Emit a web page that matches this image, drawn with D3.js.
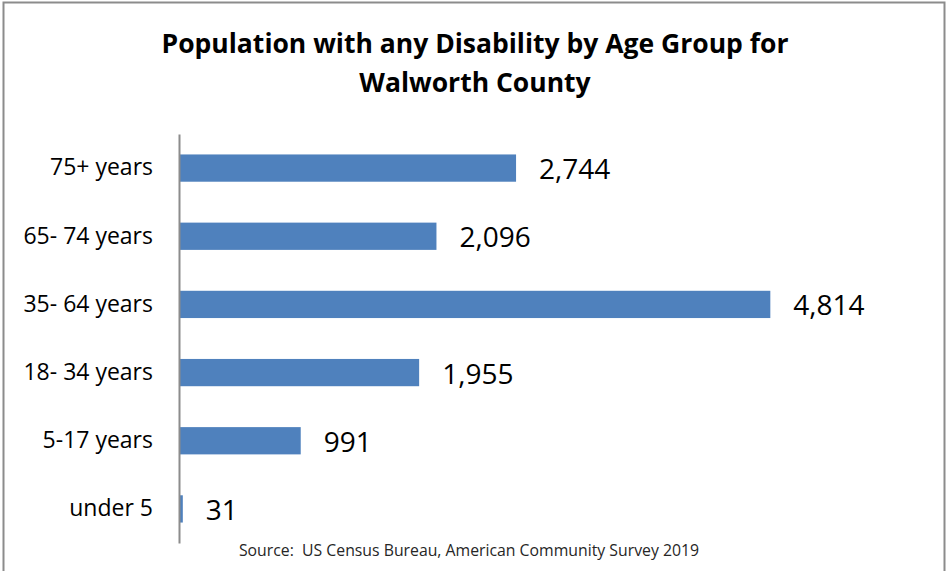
<!DOCTYPE html>
<html>
<head>
<meta charset="utf-8">
<script src="https://cdn.jsdelivr.net/npm/d3@7"></script>
<style>
  html, body { margin: 0; padding: 0; background: #fff; }
  svg { display: block; }
</style>
</head>
<body>
<svg id="chart" width="946" height="571"></svg>
<script>
// Age groups, top to bottom, and the population with any disability in each
const categories = ["75+ years", "65- 74 years", "35- 64 years", "18- 34 years", "5-17 years", "under 5"];
const values = [2744, 2096, 4814, 1955, 991, 31];
const titleLines = ["Population with any Disability by Age Group for", "Walworth County"];
const sourceNote = "Source:  US Census Bureau, American Community Survey 2019";

const font = "'Open Sans', 'Liberation Sans', sans-serif";
const svg = d3.select("#chart");

// Outer frame
svg.append("path")
  .attr("d", "M3.5,600 L3.5,2.5 L944.5,2.5 L944.5,600")
  .attr("fill", "none")
  .attr("stroke", "#8c8c8c")
  .attr("stroke-width", 2);

// Title
svg.append("text")
  .attr("text-anchor", "middle")
  .attr("font-family", font)
  .attr("font-weight", "bold")
  .attr("font-size", 26.5)
  .attr("fill", "#000")
  .selectAll("tspan")
  .data(titleLines)
  .join("tspan")
  .attr("x", 475)
  .attr("y", (d, i) => 53 + i * 39)
  .text(d => d);

const x = d3.scaleLinear().domain([0, 6000]).range([179, 916]);
const y = d3.scaleBand().domain(categories).range([134, 543]).paddingInner(0.6).paddingOuter(0.3);

// Bars
svg.append("g")
  .selectAll("rect")
  .data(values)
  .join("rect")
  .attr("x", x(0))
  .attr("y", (d, i) => y(categories[i]))
  .attr("width", d => Math.max(0, x(d) - x(0)))
  .attr("height", y.bandwidth())
  .attr("fill", "#4f81bd");

// Value labels
svg.append("g")
  .selectAll("text")
  .data(values)
  .join("text")
  .attr("x", d => x(d) + 23)
  .attr("y", (d, i) => y(categories[i]) + y.bandwidth() / 2 + 1)
  .attr("dy", "0.36em")
  .attr("font-family", font)
  .attr("font-size", 28)
  .attr("fill", "#000")
  .text(d => d3.format(",")(d));

// Category axis
const axis = svg.append("g")
  .attr("transform", `translate(${x(0)},0)`)
  .call(d3.axisLeft(y).tickSize(0).tickPadding(26));
axis.select(".domain").attr("stroke", "#8c8c8c").attr("stroke-width", 2);
axis.selectAll("text")
  .attr("font-family", font)
  .attr("font-size", 23)
  .attr("fill", "#000");

// Source note
svg.append("text")
  .attr("x", 469)
  .attr("y", 556)
  .attr("text-anchor", "middle")
  .attr("font-family", font)
  .attr("font-size", 15.8)
  .attr("fill", "#262626")
  .style("white-space", "pre")
  .text(sourceNote);
</script>
</body>
</html>
